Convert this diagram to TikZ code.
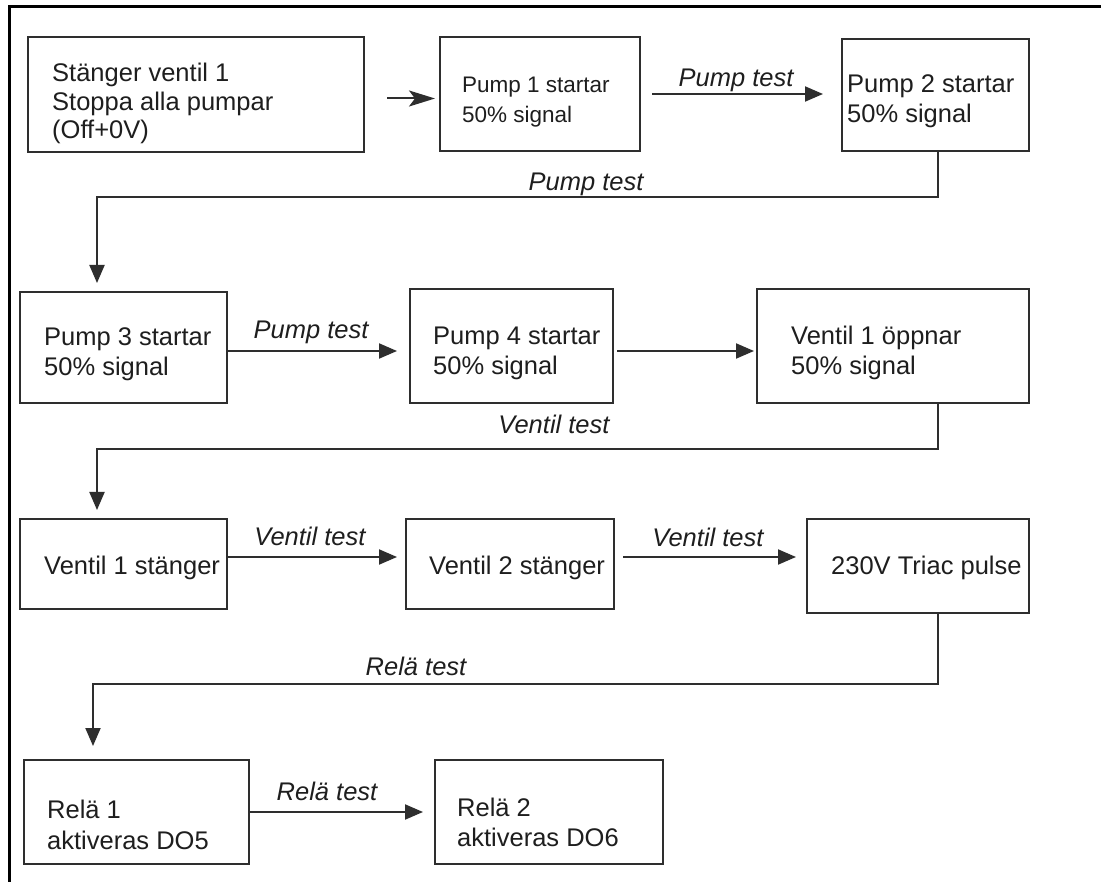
\documentclass[tikz,border=0pt]{standalone}
\usepackage{fontspec}
\setmainfont{Liberation Sans}
\usetikzlibrary{arrows.meta,calc}
\definecolor{linec}{HTML}{2E2E2E}
\definecolor{textc}{HTML}{1E1E1E}
\begin{document}
\begin{tikzpicture}[x=1pt,y=-1pt,
  box/.style={draw=linec, line width=2pt, inner sep=0pt, outer sep=0pt},
  txt/.style={font=\fontsize{25.5}{30}\selectfont, text=textc, inner sep=0pt, anchor=base west, align=left},
  smalltxt/.style={font=\fontsize{22.5}{30}\selectfont, text=textc, inner sep=0pt, anchor=base west, align=left},
  lbl/.style={font=\fontsize{25.5}{30}\selectfont\itshape, text=textc, inner sep=0pt, anchor=base},
  arr/.style={draw=linec, line width=2pt, -{Triangle[length=18pt,width=15pt]}},
  arrfirst/.style={draw=linec, line width=2pt, -{Stealth[length=26pt,width=16pt,inset=6pt]}},
  conn/.style={draw=linec, line width=2pt, -{Triangle[length=18pt,width=15pt]}},
  frame/.style={draw=black, line width=3pt}]
\useasboundingbox (0,0) rectangle (1101,882);
\fill[white] (0,0) rectangle (1101,882);
\draw[frame] (9.5,884) -- (9.5,6.5) -- (1103,6.5);

% boxes
\node[box, minimum width=336pt, minimum height=115pt] (b1) at (196,94.5) {};
\node[box, minimum width=200pt, minimum height=114pt] (b2) at (540,94) {};
\node[box, minimum width=187pt, minimum height=112pt] (b3) at (935.5,95) {};
\node[box, minimum width=207pt, minimum height=111pt] (b4) at (123.5,347.5) {};
\node[box, minimum width=203pt, minimum height=114pt] (b5) at (511.5,346) {};
\node[box, minimum width=272pt, minimum height=114pt] (b6) at (893,346) {};
\node[box, minimum width=207pt, minimum height=90pt] (b7) at (123.5,564) {};
\node[box, minimum width=208pt, minimum height=90pt] (b8) at (510,564) {};
\node[box, minimum width=222pt, minimum height=94pt] (b9) at (918,566) {};
\node[box, minimum width=225pt, minimum height=104pt] (b10) at (136.5,812) {};
\node[box, minimum width=228pt, minimum height=104pt] (b11) at (549,812) {};

% box texts
\node[txt] (t1a) at (52,82) {Stänger ventil 1};
\node[txt] (t1b) at (52,110.5) {Stoppa alla pumpar};
\node[txt] (t1c) at (52,139) {(Off+0V)};
\node[smalltxt] (t2a) at (462,93) {Pump 1 startar};
\node[smalltxt] (t2b) at (462,123) {50\% signal};
\node[txt] (t3a) at (847,93) {Pump 2 startar};
\node[txt] (t3b) at (847,123) {50\% signal};
\node[txt] (t4a) at (44,346) {Pump 3 startar};
\node[txt] (t4b) at (44,376) {50\% signal};
\node[txt] (t5a) at (433,345) {Pump 4 startar};
\node[txt] (t5b) at (433,375) {50\% signal};
\node[txt] (t6a) at (791,345) {Ventil 1 öppnar};
\node[txt] (t6b) at (791,375) {50\% signal};
\node[txt] (t7) at (44,574) {Ventil 1 stänger};
\node[txt] (t8) at (429,574) {Ventil 2 stänger};
\node[txt] (t9) at (831,574) {230V Triac pulse};
\node[txt] (t10a) at (47,818) {Relä 1};
\node[txt] (t10b) at (47,849) {aktiveras DO5};
\node[txt] (t11a) at (457,816) {Relä 2};
\node[txt] (t11b) at (457,846) {aktiveras DO6};

% bend points of the return connectors
\coordinate (k1) at (97,197);
\coordinate (k2) at (97,449);
\coordinate (k3) at (93,684);

% connectors
\draw[arrfirst] ($(b1.east)+(23,4)$) -- ($(b2.west)+(-5,4.5)$);
\draw[arr] ($(b2.east)+(12,0)$) -- ($(b3.west)+(-19,-1)$);
\draw[conn, shorten >=9pt] ($(b3.south east)+(-91,0)$) |- (k1) -- (k1 |- b4.north);
\draw[arr] ($(b4.east)+(0,3.5)$) -- ($(b5.west)+(-13,5)$);
\draw[arr] ($(b5.east)+(4,5)$) -- ($(b6.west)+(-3,5)$);
\draw[conn, shorten >=9pt] ($(b6.south east)+(-91,0)$) |- (k2) -- (k2 |- b7.north);
\draw[arr] ($(b7.east)+(0,-7)$) -- ($(b8.west)+(-9,-7)$);
\draw[arr] ($(b8.east)+(9,-7)$) -- ($(b9.west)+(-11,-9)$);
\draw[conn, shorten >=14pt] ($(b9.south east)+(-91,0)$) |- (k3) -- (k3 |- b10.north);
\draw[arr] (b10.east) -- ($(b11.west)+(-12,0)$);

% labels
\node[lbl] (l1) at (736,87) {Pump test};
\node[lbl] (l2) at (586,191) {Pump test};
\node[lbl] (l3) at (311,339) {Pump test};
\node[lbl] (l4) at (554,434) {Ventil test};
\node[lbl] (l5) at (310,545) {Ventil test};
\node[lbl] (l6) at (708,546) {Ventil test};
\node[lbl] (l7) at (416,675) {Relä test};
\node[lbl] (l8) at (327,800) {Relä test};
\end{tikzpicture}
\end{document}
